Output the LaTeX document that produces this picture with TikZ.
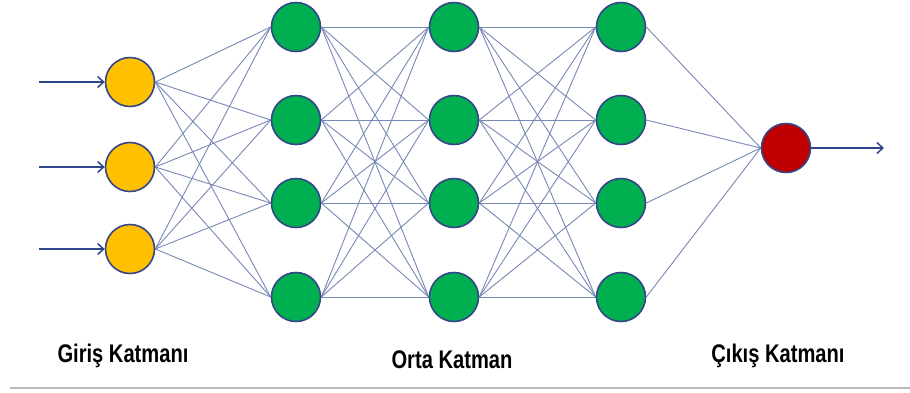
\documentclass[tikz,border=0pt]{standalone}
\usepackage{fontspec}
\setmainfont{Liberation Sans}
\newfontfamily\labfont[FakeStretch=0.79]{Liberation Sans}
\usetikzlibrary{arrows.meta}
\pgfdeclarelayer{background}
\pgfsetlayers{background,main}
\definecolor{nodeline}{HTML}{34468A}
\definecolor{edgecol}{HTML}{7788B5}
\definecolor{arrcol}{HTML}{2F4588}
\definecolor{inyellow}{HTML}{FFC000}
\definecolor{hidgreen}{HTML}{00B050}
\definecolor{outred}{HTML}{C00000}
\tikzset{
  neuron/.style={circle, draw=nodeline, line width=1.6pt, minimum size=49pt, inner sep=0pt},
  inneuron/.style={neuron, fill=inyellow},
  hidneuron/.style={neuron, fill=hidgreen},
  outneuron/.style={neuron, fill=outred},
  link/.style={draw=edgecol, line width=0.9pt},
  ioarrow/.style={draw=arrcol, line width=1.5pt, -{Straight Barb[length=6pt,width=11pt,line width=1.5pt]}},
  layerlabel/.style={font=\labfont\bfseries\fontsize{25.5}{28}\selectfont, text=black, inner sep=0pt, anchor=base}
}
\begin{document}
\begin{tikzpicture}[x=1pt,y=-1pt]
\useasboundingbox (0,0) rectangle (910,392);
% input layer
\node[inneuron] (i1) at (130,82) {};
\node[inneuron] (i2) at (130,167) {};
\node[inneuron] (i3) at (130,249) {};
% hidden layers
\foreach \c/\x in {a/296,b/454,c/621}{
  \node[hidneuron] (\c1) at (\x,27) {};
  \node[hidneuron] (\c2) at (\x,120) {};
  \node[hidneuron] (\c3) at (\x,203) {};
  \node[hidneuron] (\c4) at (\x,297) {};
}
% output
\node[outneuron] (o) at (786,148) {};
% free arrow ends
\coordinate (s1) at (39,82);
\coordinate (s2) at (39,167);
\coordinate (s3) at (39,249);
\coordinate (e) at (884,148);
% connections
\begin{pgfonlayer}{background}
\foreach \i in {1,2,3}{
  \foreach \j in {1,2,3,4}{
    \path[link] (i\i.east) -- (a\j.west);
  }
}
\foreach \i in {1,2,3,4}{
  \foreach \j in {1,2,3,4}{
    \path[link] (a\i.east) -- (b\j.west);
    \path[link] (b\i.east) -- (c\j.west);
  }
  \path[link] (c\i.east) -- (o.west);
}
\end{pgfonlayer}
\draw[ioarrow] (s1) -- (i1.west);
\draw[ioarrow] (s2) -- (i2.west);
\draw[ioarrow] (s3) -- (i3.west);
\draw[ioarrow] (o.east) -- (e);
% labels
\node[layerlabel] (l1) at (123,362) {Giriş Katmanı};
\node[layerlabel] (l2) at (452,368) {Orta Katman};
\node[layerlabel] (l3) at (778,362) {Çıkış Katmanı};
% bottom rule
\draw[gray!55, line width=2.5pt] (10,388) -- (910,388);
\end{tikzpicture}
\end{document}
